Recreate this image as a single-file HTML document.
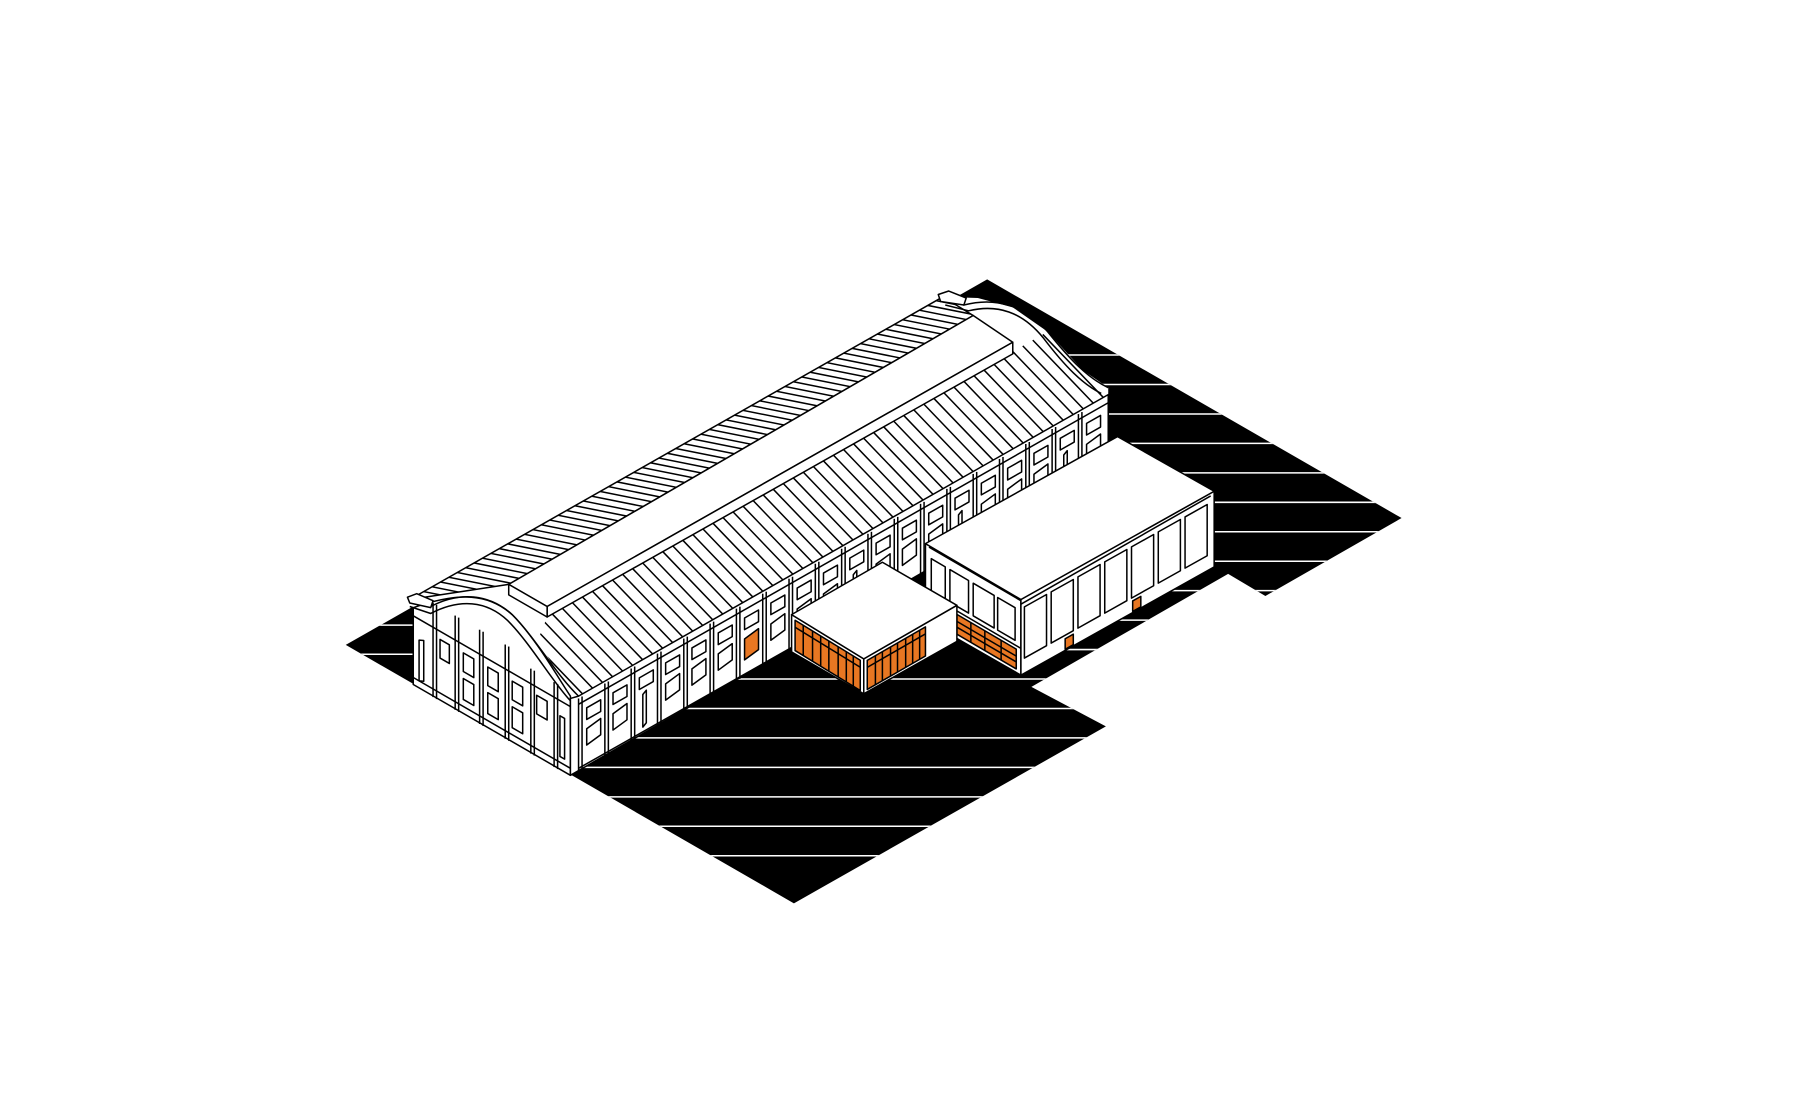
<!DOCTYPE html>
<html><head><meta charset="utf-8"><style>
html,body{margin:0;padding:0;background:#fff;width:1816px;height:1096px;overflow:hidden}
svg{display:block}
</style></head><body>
<svg id="s" width="1816" height="1096" viewBox="0 0 1560 941.5" preserveAspectRatio="none" xmlns="http://www.w3.org/2000/svg">
<defs>
<clipPath id="gclip"><polygon points="297,554 848,240 1204,445 1087,512 1055,493 886,590 950,624 682,776"/></clipPath>
<clipPath id="backroof"><polygon points="352,515 810,255 836,271 437,502"/></clipPath>
<clipPath id="frontroof"><polygon points="470,530 870,302 872,268 900,286 925,315 950,338 945,346 497,600 480,580 462,550"/></clipPath>
</defs>
<polygon points="297,554 848,240 1204,445 1087,512 1055,493 886,590 950,624 682,776" fill="#000"/>
<g id="stripes" clip-path="url(#gclip)" stroke="#fff" stroke-width="1.3"></g>
<polygon points="355,522 352,515 810,255 840,256 870,264 900,285 930,318 952,333 952,400 490,666 355,588" fill="#fff"/>
<g id="bld" stroke="#000" stroke-width="1.3" fill="#fff" stroke-linejoin="round"></g>
</svg>
<script>
var NS="http://www.w3.org/2000/svg";
function el(p,t,a){var e=document.createElementNS(NS,t);for(var k in a)e.setAttribute(k,a[k]);p.appendChild(e);return e;}
var st=document.getElementById('stripes');
for(var y=305;y<=760;y+=25.3){el(st,'line',{x1:(y<575?880:400),y1:y,x2:1300,y2:y});}
el(st,'line',{x1:290,y1:537,x2:360,y2:537});
el(st,'line',{x1:290,y1:562,x2:360,y2:562});
var b=document.getElementById('bld');
function poly(pts,a){a=a||{};a.points=pts.map(function(p){return p[0]+','+p[1]}).join(' ');return el(b,'polygon',a);}
function line(x1,y1,x2,y2,a){a=a||{};a.x1=x1;a.y1=y1;a.x2=x2;a.y2=y2;return el(b,'line',a);}
var OR='#E87722';
el(b,'path',{d:'M355,588 L355,522 C395,508 420,510 440,528 C460,548 478,580 490,598 L490,666 Z'});
poly([[352,515],[810,255],[836,271],[437,502]]);
poly([[470,530],[870,302],[872,268],[900,286],[925,315],[952,336],[945,346],[497,600],[480,580],[462,550]],{stroke:'none'});
var g1=el(b,'g',{'clip-path':'url(#backroof)'});
for(var i=0;i<70;i++){var x=340+i*7.2,yy=520-i*4.1;el(g1,'line',{x1:x-30,y1:yy-6,x2:x+60,y2:yy+12});}
var g2=el(b,'g',{'clip-path':'url(#frontroof)'});
for(var i=0;i<60;i++){var x=440+i*8.6,yy=547-i*4.9;el(g2,'line',{x1:x,y1:yy,x2:x+120,y2:yy+125});}
poly([[437,502],[836,271],[870,294],[470,521]]);
poly([[470,521],[870,294],[870,304],[470,530]]);
poly([[437,502],[470,521],[470,530],[437,511]]);
el(b,'path',{d:'M352,515 L370,521 C395,508 420,510 440,528 C460,548 478,580 497,598',fill:'none'});
el(b,'path',{d:'M352,521 L370,527 C395,514 418,516 436,533 C456,553 474,585 490,602',fill:'none'});
poly([[350,513],[358,510],[372,516],[370,522],[352,518]]);
el(b,'path',{d:'M808,256 L828,262 C855,255 880,262 900,285 C920,310 935,325 952,333',fill:'none'});
el(b,'path',{d:'M812,262 L832,267 C857,261 878,268 896,290 C915,315 930,330 946,338',fill:'none'});
poly([[806,253],[815,250],[830,256],[828,262],[808,259]]);
var S=-0.569;function yt(x){return 600+S*(x-497);}
poly([[490,600],[497,598],[952,339],[952,400],[490,666]]);
line(497,605,952,346);line(497,660,952,402);
for(var i=0;i<20;i++){var x0=497+i*22.6;
 line(x0,yt(x0),x0,yt(x0)+64);line(x0+3,yt(x0+3),x0+3,yt(x0+3)+62);
 var a=x0+7,c=x0+19;
 poly([[a,yt(a)+12],[c,yt(c)+12],[c,yt(c)+22],[a,yt(a)+22]]);
 if(i==6){poly([[a,yt(a)+30],[c,yt(c)+28],[c,yt(c)+46],[a,yt(a)+48]],{fill:OR});}
 else if(i%4==2){poly([[a+3,yt(a+3)+28],[a+6,yt(a+6)+26],[a+6,yt(a+6)+54],[a+3,yt(a+3)+56]]);}
 else{poly([[a,yt(a)+30],[c,yt(c)+28],[c,yt(c)+42],[a,yt(a)+44]]);}
}
function ye(x){return 522+0.578*(x-355);}
line(355,529,490,607);line(355,582,490,660);
var pil=[372,391,412,434,456,476];
pil.forEach(function(x){line(x,ye(x)-(x<445?14:6),x,ye(x)+67);line(x+3,ye(x+3)-(x<445?14:6),x+3,ye(x+3)+67);});
poly([[360,ye(360)+25],[364,ye(364)+23],[364,ye(364)+58],[360,ye(360)+60]]);
poly([[481,ye(481)+20],[485,ye(485)+20],[485,ye(485)+55],[481,ye(481)+55]]);
[[378,386],[398,407],[419,428],[440,449],[461,470]].forEach(function(p,k){
 poly([[p[0],ye(p[0])+14],[p[1],ye(p[1])+14],[p[1],ye(p[1])+30],[p[0],ye(p[0])+30]]);
 if(k>0&&k<4)poly([[p[0],ye(p[0])+36],[p[1],ye(p[1])+36],[p[1],ye(p[1])+54],[p[0],ye(p[0])+54]]);
});
poly([[795,467],[877,515],[877,580],[795,533]]);
poly([[877,515],[1043,422],[1043,487],[877,580]]);
poly([[795,467],[960,375],[1043,422],[877,515]]);
line(798,470,877,516);line(877,519,1040,426);
function y2l(x){return 467+0.585*(x-795);}
[[800,812],[816,832],[836,854],[857,872]].forEach(function(p){poly([[p[0],y2l(p[0])+10],[p[1],y2l(p[1])+10],[p[1],y2l(p[1])+38],[p[0],y2l(p[0])+38]]);});
line(795,y2l(795)+42,877,y2l(877)+42);
poly([[822,y2l(822)+45],[873,y2l(873)+45],[873,y2l(873)+62],[822,y2l(822)+62]],{fill:OR});
[834,846,860].forEach(function(x){line(x,y2l(x)+45,x,y2l(x)+62);});
line(822,y2l(822)+51,873,y2l(873)+51);line(822,y2l(822)+56,873,y2l(873)+56);
function y2r(x){return 515-0.56*(x-877);}
for(var i=0;i<7;i++){var a=880+i*23,c=a+19;poly([[a,y2r(a)+8],[c,y2r(c)+8],[c,y2r(c)+52],[a,y2r(a)+52]]);}
poly([[915,y2r(915)+55],[922,y2r(922)+55],[922,y2r(922)+64],[915,y2r(915)+64]],{fill:OR});
poly([[973,y2r(973)+55],[980,y2r(980)+55],[980,y2r(980)+64],[973,y2r(973)+64]],{fill:OR});
poly([[680,528],[742,566],[742,596],[680,560]]);
poly([[742,566],[822,520],[822,551],[742,596]]);
poly([[680,528],[758,483],[822,520],[742,566]]);
function y1l(x){return 528+0.613*(x-680);}
poly([[683,y1l(683)+3],[739,y1l(739)+3],[739,y1l(739)+29],[683,y1l(683)+29]],{fill:OR});
[690,698,705,712,720,727,733].forEach(function(x){line(x,y1l(x)+3,x,y1l(x)+29);});
line(683,y1l(683)+9,739,y1l(739)+9);
function y1r(x){return 566-0.575*(x-742);}
poly([[745,y1r(745)+3],[795,y1r(795)+3],[795,y1r(795)+28],[745,y1r(745)+28]],{fill:OR});
[752,758,765,771,778,784,790].forEach(function(x){line(x,y1r(x)+3,x,y1r(x)+28);});
line(745,y1r(745)+9,795,y1r(795)+9);
</script>
</body></html>
